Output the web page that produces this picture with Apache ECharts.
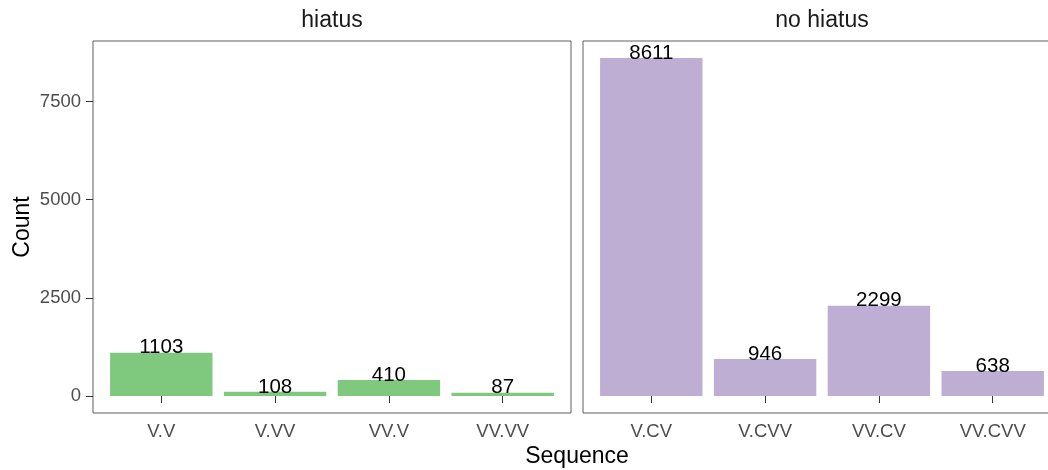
<!DOCTYPE html>
<html>
<head>
<meta charset="utf-8">
<script src="https://cdn.jsdelivr.net/npm/echarts@6/dist/echarts.min.js"></script>
<style>
  html, body { margin: 0; padding: 0; background: #ffffff; }
  #chart { width: 1048px; height: 470px; }
</style>
</head>
<body>
<div id="chart"></div>
<script>
// Counts of syllable sequences, split by whether a hiatus occurs
const hiatusCategories = ['V.V', 'V.VV', 'VV.V', 'VV.VV'];
const hiatusCounts = [1103, 108, 410, 87];
const noHiatusCategories = ['V.CV', 'V.CVV', 'VV.CV', 'VV.CVV'];
const noHiatusCounts = [8611, 946, 2299, 638];
const facetTitles = ['hiatus', 'no hiatus'];
const yTickValues = [0, 2500, 5000, 7500];
const xTitle = 'Sequence';
const yTitle = 'Count';

const FONT = '"Liberation Sans", Arial, Helvetica, sans-serif';

// panel geometry (two facets side by side, same size; the second runs past the right edge)
const panelTop = 41, panelHeight = 372, panelWidth = 478;
const panelLefts = [93, 583];

// discrete x scale: positions 1..n, padded by 0.6 on each side
const nCat = hiatusCategories.length;
const xMin = 1 - 0.6, xMax = nCat + 0.6;
const barWidth = 0.9 * panelWidth / (xMax - xMin);

// continuous y scale with 5% padding on both ends
const allCounts = hiatusCounts.concat(noHiatusCounts);
const yHi = Math.max(...allCounts);
const yMin = -0.05 * yHi, yMax = yHi * 1.05;

const positions = hiatusCategories.map((_, i) => i + 1);

function makeX(idx, cats) {
  return {
    type: 'value', gridIndex: idx, min: xMin, max: xMax,
    axisLine: { show: false },
    splitLine: { show: false },
    axisTick: { show: true, customValues: positions, length: 7,
                lineStyle: { color: '#333333', width: 1 } },
    axisLabel: { show: true, customValues: positions, margin: 9,
                 fontFamily: FONT, fontSize: 18.5, color: '#4d4d4d',
                 formatter: v => cats[Math.round(v) - 1] || '' }
  };
}

function makeY(idx, showAxis) {
  return {
    type: 'value', gridIndex: idx, min: yMin, max: yMax,
    axisLine: { show: false },
    splitLine: { show: false },
    axisTick: { show: showAxis, customValues: yTickValues, length: 7,
                lineStyle: { color: '#333333', width: 1 } },
    axisLabel: { show: showAxis, customValues: yTickValues, margin: 12,
                 fontFamily: FONT, fontSize: 18.5, color: '#4d4d4d',
                 formatter: v => String(v) }
  };
}

function makeBars(idx, counts, color) {
  return {
    type: 'bar', xAxisIndex: idx, yAxisIndex: idx,
    data: counts.map((v, i) => [positions[i], v]),
    barWidth: barWidth,
    itemStyle: { color: color },
    label: {
      show: true, position: 'top', distance: 5, verticalAlign: 'middle',
      fontFamily: FONT, fontSize: 20.5, color: '#000000',
      formatter: p => String(p.value[1])
    }
  };
}

const chart = echarts.init(document.getElementById('chart'), null, { renderer: 'canvas' });

const option = {
  animation: false,
  backgroundColor: '#ffffff',
  grid: panelLefts.map(left => ({
    left: left, top: panelTop, width: panelWidth, height: panelHeight,
    outerBoundsMode: 'none', containLabel: false,
    show: true, borderColor: '#5e5e5e', borderWidth: 1, backgroundColor: 'transparent'
  })),
  xAxis: [makeX(0, hiatusCategories), makeX(1, noHiatusCategories)],
  yAxis: [makeY(0, true), makeY(1, false)],
  series: [
    makeBars(0, hiatusCounts, '#7fc97f'),
    makeBars(1, noHiatusCounts, '#beaed4')
  ],
  graphic: [
    ...facetTitles.map((t, i) => ({
      type: 'text', x: panelLefts[i] + panelWidth / 2, y: 21,
      style: { text: t, fontFamily: FONT, fontSize: 23, fill: '#1a1a1a',
               align: 'center', verticalAlign: 'middle' }
    })),
    {
      type: 'text', x: (panelLefts[0] + panelLefts[1] + panelWidth) / 2, y: 457,
      style: { text: xTitle, fontFamily: FONT, fontSize: 23, fill: '#000000',
               align: 'center', verticalAlign: 'middle' }
    },
    {
      type: 'text', x: 23, y: panelTop + panelHeight / 2, rotation: Math.PI / 2,
      style: { text: yTitle, fontFamily: FONT, fontSize: 23, fill: '#000000',
               align: 'center', verticalAlign: 'middle' }
    }
  ]
};

chart.setOption(option);
</script>
</body>
</html>
